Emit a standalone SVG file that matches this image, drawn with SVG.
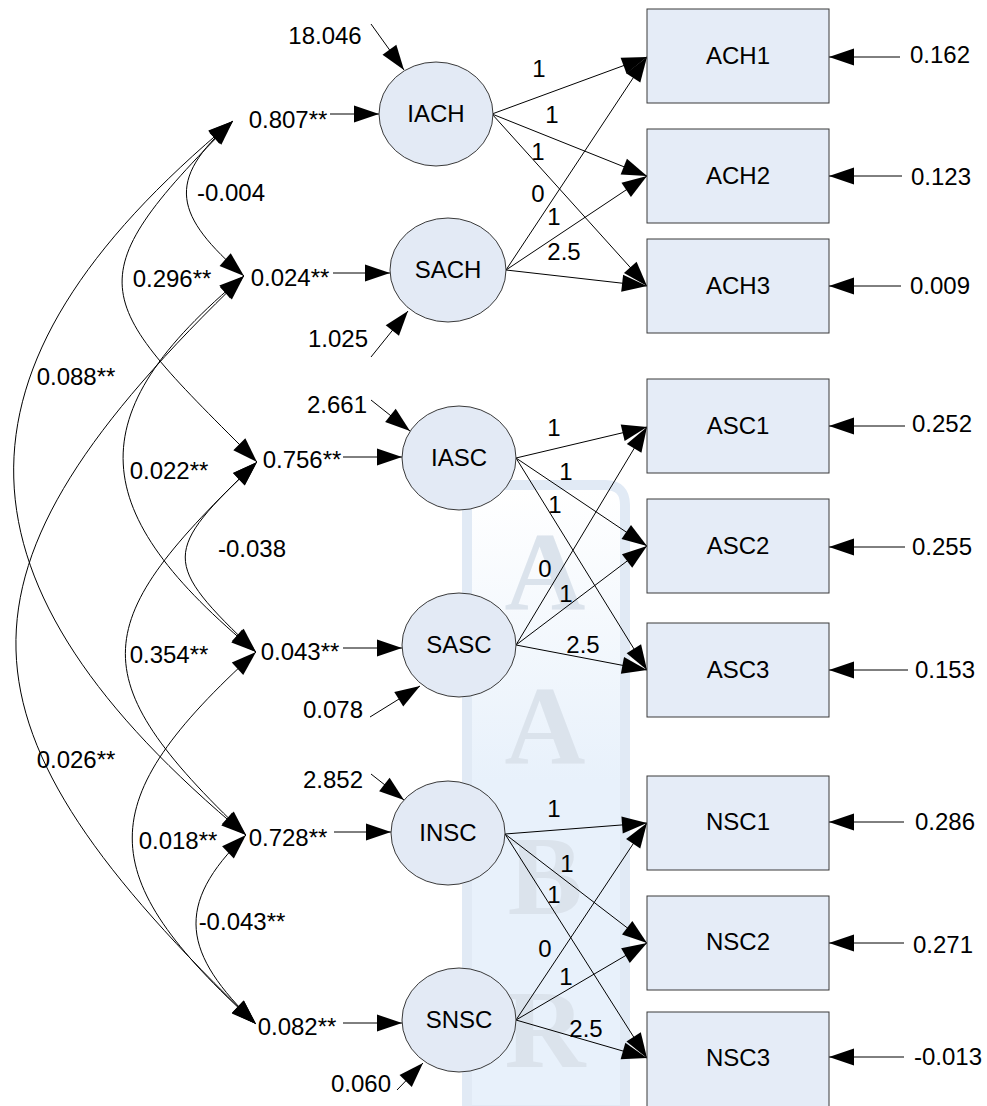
<svg xmlns="http://www.w3.org/2000/svg" width="987" height="1106" viewBox="0 0 987 1106">
<defs>
<marker id="ah" markerUnits="userSpaceOnUse" markerWidth="26" markerHeight="18" refX="25" refY="8.5" orient="auto-start-reverse" overflow="visible">
<path d="M0,0 L25,8.5 L0,17 Z" fill="#000"/>
</marker>
<linearGradient id="wmg" x1="0" y1="490" x2="0" y2="780" gradientUnits="userSpaceOnUse">
<stop offset="0" stop-color="#ffffff"/>
<stop offset="1" stop-color="#e8f1fb"/>
</linearGradient>
<style>
text{font-family:"Liberation Sans",Arial,sans-serif;font-size:24px;fill:#000;text-anchor:middle}
.lat{fill:#e3eaf5;stroke:#3a3a3a;stroke-width:1}
.box{fill:#e5ecf7;stroke:#3a3a3a;stroke-width:1}
.ln{stroke:#000;stroke-width:1;fill:none;marker-end:url(#ah)}
.cv{stroke:#000;stroke-width:1;fill:none;marker-start:url(#ah);marker-end:url(#ah)}
.wm{font-family:"Liberation Serif","Times New Roman",serif;font-weight:bold;font-size:112px;fill:#dbe3ec}
</style>
</defs>
<rect width="987" height="1106" fill="#fff"/>
<g id="watermark">
<path d="M467,1110 V505 Q467,485 487,485 H605 Q625,485 625,505 V1110 Z" fill="url(#wmg)" stroke="#e1eaf5" stroke-width="10"/>
<text class="wm" x="545" y="610">A</text>
<text class="wm" x="545" y="764">A</text>
<text class="wm" x="545" y="914">B</text>
<text class="wm" x="545" y="1067">R</text>
</g>
<g id="connectors">
<path class="cv" d="M233,121 C164,181 175,216 244,276"/>
<path class="cv" d="M233,121 C70,284 94,299 257,462"/>
<path class="cv" d="M233,121 C-68,371 -55,585 246,835"/>
<path class="cv" d="M244,276 C75,416 87,512 256,652"/>
<path class="cv" d="M244,276 C-68,576 -56,724 256,1024"/>
<path class="cv" d="M257,462 C162,552 161,562 256,652"/>
<path class="cv" d="M257,462 C89,622 78,675 246,835"/>
<path class="cv" d="M256,652 C91,802 91,874 256,1024"/>
<path class="cv" d="M246,835 C173,905 183,954 256,1024"/>
<line class="ln" x1="330" y1="114" x2="379" y2="114"/>
<line class="ln" x1="333" y1="273" x2="390" y2="273"/>
<line class="ln" x1="343" y1="457" x2="402" y2="457"/>
<line class="ln" x1="343" y1="648" x2="402" y2="648"/>
<line class="ln" x1="334" y1="832" x2="391" y2="832"/>
<line class="ln" x1="343" y1="1023" x2="402" y2="1023"/>
<line class="ln" x1="371" y1="24" x2="404" y2="70"/>
<line class="ln" x1="371" y1="357" x2="408" y2="311"/>
<line class="ln" x1="371" y1="400" x2="410" y2="431"/>
<line class="ln" x1="370" y1="717" x2="420" y2="686"/>
<line class="ln" x1="371" y1="774" x2="404" y2="800"/>
<line class="ln" x1="397" y1="1090" x2="423" y2="1063"/>
<line class="ln" x1="492" y1="114" x2="647" y2="57"/>
<line class="ln" x1="492" y1="114" x2="647" y2="176"/>
<line class="ln" x1="492" y1="114" x2="647" y2="286"/>
<line class="ln" x1="506" y1="270" x2="647" y2="57"/>
<line class="ln" x1="506" y1="270" x2="647" y2="176"/>
<line class="ln" x1="506" y1="270" x2="647" y2="286"/>
<line class="ln" x1="516" y1="458" x2="647" y2="427"/>
<line class="ln" x1="516" y1="458" x2="647" y2="546"/>
<line class="ln" x1="516" y1="458" x2="647" y2="670"/>
<line class="ln" x1="516" y1="645" x2="647" y2="427"/>
<line class="ln" x1="516" y1="645" x2="647" y2="546"/>
<line class="ln" x1="516" y1="645" x2="647" y2="670"/>
<line class="ln" x1="505" y1="834" x2="647" y2="823"/>
<line class="ln" x1="505" y1="834" x2="647" y2="943"/>
<line class="ln" x1="505" y1="834" x2="647" y2="1058"/>
<line class="ln" x1="516" y1="1020" x2="647" y2="823"/>
<line class="ln" x1="516" y1="1020" x2="647" y2="943"/>
<line class="ln" x1="516" y1="1020" x2="647" y2="1058"/>
<line class="ln" x1="900" y1="57" x2="829" y2="57"/>
<line class="ln" x1="902" y1="176" x2="829" y2="176"/>
<line class="ln" x1="901" y1="286" x2="829" y2="286"/>
<line class="ln" x1="905" y1="426" x2="829" y2="426"/>
<line class="ln" x1="905" y1="547" x2="829" y2="547"/>
<line class="ln" x1="908" y1="670" x2="829" y2="670"/>
<line class="ln" x1="904" y1="822" x2="829" y2="822"/>
<line class="ln" x1="904" y1="943" x2="829" y2="943"/>
<line class="ln" x1="904" y1="1057" x2="829" y2="1057"/>
</g>
<g id="labels">
<text x="325" y="44">18.046</text>
<text x="288" y="128">0.807**</text>
<text x="231" y="201">-0.004</text>
<text x="172" y="287">0.296**</text>
<text x="290" y="286">0.024**</text>
<text x="338" y="347">1.025</text>
<text x="76" y="385">0.088**</text>
<text x="337" y="413">2.661</text>
<text x="169" y="479">0.022**</text>
<text x="302" y="468">0.756**</text>
<text x="252" y="557">-0.038</text>
<text x="169" y="663">0.354**</text>
<text x="300" y="660">0.043**</text>
<text x="333" y="718">0.078</text>
<text x="76" y="768">0.026**</text>
<text x="333" y="788">2.852</text>
<text x="288" y="846">0.728**</text>
<text x="178" y="849">0.018**</text>
<text x="242" y="930">-0.043**</text>
<text x="297" y="1035">0.082**</text>
<text x="361" y="1092">0.060</text>
<text x="539" y="77">1</text>
<text x="552" y="123">1</text>
<text x="538" y="160">1</text>
<text x="538" y="202">0</text>
<text x="554" y="225">1</text>
<text x="564" y="260">2.5</text>
<text x="554" y="436">1</text>
<text x="566" y="480">1</text>
<text x="555" y="513">1</text>
<text x="545" y="577">0</text>
<text x="566" y="602">1</text>
<text x="583" y="653">2.5</text>
<text x="554" y="817">1</text>
<text x="567" y="872">1</text>
<text x="554" y="903">1</text>
<text x="545" y="957">0</text>
<text x="566" y="985">1</text>
<text x="586" y="1037">2.5</text>
<text x="940" y="63">0.162</text>
<text x="941" y="185">0.123</text>
<text x="940" y="294">0.009</text>
<text x="942" y="432">0.252</text>
<text x="942" y="555">0.255</text>
<text x="945" y="678">0.153</text>
<text x="945" y="830">0.286</text>
<text x="943" y="953">0.271</text>
<text x="948" y="1065">-0.013</text>
</g>
<g id="IACH"><ellipse class="lat" cx="436" cy="114" rx="57" ry="52"/><text x="436" y="122">IACH</text></g>
<g id="SACH"><ellipse class="lat" cx="448" cy="270" rx="58" ry="52"/><text x="448" y="278">SACH</text></g>
<g id="IASC"><ellipse class="lat" cx="459" cy="458" rx="57" ry="52"/><text x="459" y="466">IASC</text></g>
<g id="SASC"><ellipse class="lat" cx="459" cy="645" rx="57" ry="52"/><text x="459" y="653">SASC</text></g>
<g id="INSC"><ellipse class="lat" cx="448" cy="833" rx="57" ry="52"/><text x="448" y="841">INSC</text></g>
<g id="SNSC"><ellipse class="lat" cx="459" cy="1020" rx="57" ry="52"/><text x="459" y="1028">SNSC</text></g>
<g id="ACH1"><rect class="box" x="647" y="9" width="182" height="94"/><text x="738" y="64">ACH1</text></g>
<g id="ACH2"><rect class="box" x="647" y="129" width="182" height="94"/><text x="738" y="184">ACH2</text></g>
<g id="ACH3"><rect class="box" x="647" y="239" width="182" height="94"/><text x="738" y="294">ACH3</text></g>
<g id="ASC1"><rect class="box" x="647" y="379" width="182" height="94"/><text x="738" y="434">ASC1</text></g>
<g id="ASC2"><rect class="box" x="647" y="499" width="182" height="94"/><text x="738" y="554">ASC2</text></g>
<g id="ASC3"><rect class="box" x="647" y="623" width="182" height="94"/><text x="738" y="678">ASC3</text></g>
<g id="NSC1"><rect class="box" x="647" y="776" width="182" height="94"/><text x="738" y="830">NSC1</text></g>
<g id="NSC2"><rect class="box" x="647" y="896" width="182" height="94"/><text x="738" y="950">NSC2</text></g>
<g id="NSC3"><rect class="box" x="647" y="1012" width="182" height="96"/><text x="738" y="1066">NSC3</text></g>
</svg>
